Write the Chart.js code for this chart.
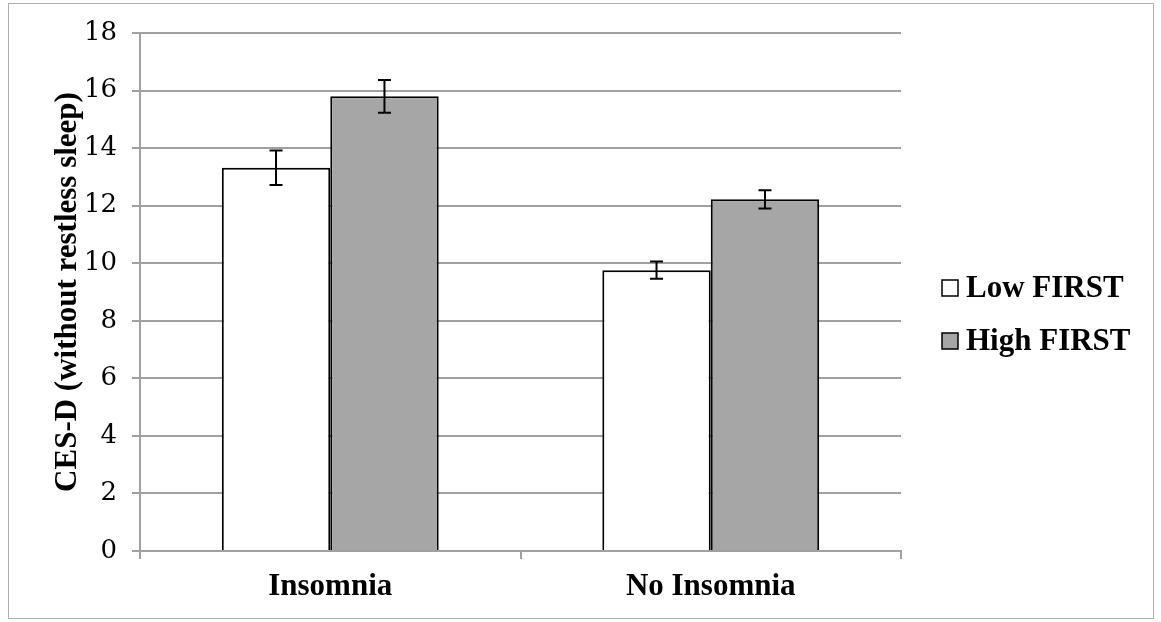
<html>
  <head>
    <meta charset="utf-8" />
    <title>CES-D by insomnia and FIRST</title>
    <style>
      body { margin: 0; background: #ffffff; }
      #box { width: 1161px; height: 622px; }
    </style>
  </head>
  <body>
    <div id="box"><canvas id="chart"></canvas></div>

    <script src="https://cdn.jsdelivr.net/npm/chart.js"></script>
    <script>
      // categories and series
      var groups = ["Insomnia", "No Insomnia"];
      var seriesNames = ["Low FIRST", "High FIRST"];
      var seriesColors = ["#ffffff", "#a6a6a6"];
      // means
      var lowMeans = [13.32, 9.76];
      var highMeans = [15.8, 12.22];
      // error bar half-lengths
      var lowErr = [0.6, 0.3];
      var highErr = [0.57, 0.32];
      // y axis
      var yMin = 0, yMax = 18, yStep = 2;
      var yTitle = "CES-D (without restless sleep)";

      var grey = "#a0a0a0";
      var bigFont = { family: "'Liberation Serif', 'Times New Roman', serif", size: 31, weight: "bold" };

      // grey frame around the whole chart
      var frame = {
        id: "frame",
        beforeDraw: function (chart) {
          var ctx = chart.ctx;
          ctx.save();
          ctx.strokeStyle = "#b0b0b0";
          ctx.lineWidth = 1;
          ctx.strokeRect(8.5, 3.5, 1145, 615);
          ctx.restore();
        },
      };

      // error bars, placed with the y scale
      var errorBars = {
        id: "errorBars",
        afterDatasetsDraw: function (chart) {
          var ctx = chart.ctx;
          var y = chart.scales.y;
          chart.data.datasets.forEach(function (ds, i) {
            var meta = chart.getDatasetMeta(i);
            meta.data.forEach(function (bar, j) {
              var v = ds.data[j], e = ds.errors[j];
              var top = y.getPixelForValue(v + e);
              var bot = y.getPixelForValue(v - e);
              ctx.save();
              ctx.strokeStyle = "#000000";
              ctx.lineWidth = 2;
              ctx.beginPath();
              ctx.moveTo(bar.x, top); ctx.lineTo(bar.x, bot);
              ctx.moveTo(bar.x - 6.5, top); ctx.lineTo(bar.x + 6.5, top);
              ctx.moveTo(bar.x - 6.5, bot); ctx.lineTo(bar.x + 6.5, bot);
              ctx.stroke();
              ctx.restore();
            });
          });
        },
      };

      // legend at the right, square swatches with black edge
      var sideLegend = {
        id: "sideLegend",
        afterDraw: function (chart) {
          var ctx = chart.ctx;
          var x0 = chart.chartArea.right + 41;
          var yc = [288, 341];
          ctx.save();
          chart.data.datasets.forEach(function (ds, i) {
            ctx.fillStyle = ds.backgroundColor;
            ctx.fillRect(x0, yc[i] - 8, 16, 16);
            ctx.strokeStyle = "#000000";
            ctx.lineWidth = 1.5;
            ctx.strokeRect(x0, yc[i] - 8, 16, 16);
            ctx.fillStyle = "#000000";
            ctx.font = "bold 31px 'Liberation Serif', 'Times New Roman', serif";
            ctx.textBaseline = "middle";
            ctx.textAlign = "left";
            ctx.fillText(ds.label, x0 + 24, yc[i] + 1);
          });
          ctx.restore();
        },
      };

      var ctx = document.getElementById("chart").getContext("2d");
      var chart = new Chart(ctx, {
        type: "bar",
        data: {
          labels: groups,
          datasets: [
            {
              label: seriesNames[0],
              data: lowMeans,
              errors: lowErr,
              backgroundColor: seriesColors[0],
              borderColor: "#000000",
              borderWidth: 2,
            },
            {
              label: seriesNames[1],
              data: highMeans,
              errors: highErr,
              backgroundColor: seriesColors[1],
              borderColor: "#000000",
              borderWidth: 2,
            },
          ],
        },
        options: {
          responsive: true,
          maintainAspectRatio: false,
          animation: false,
          layout: { padding: { left: 0, right: 260, top: 33, bottom: 0 } },
          datasets: { bar: { categoryPercentage: 0.57, barPercentage: 1.0 } },
          plugins: {
            legend: { display: false },
            tooltip: { enabled: false },
          },
          scales: {
            x: {
              grid: { drawOnChartArea: false, drawTicks: true, tickLength: 8, color: grey, lineWidth: 2 },
              border: { color: grey, width: 2 },
              ticks: { color: "#000000", font: bigFont, padding: 9 },
              afterFit: function (s) { s.height = 71; },
            },
            y: {
              min: yMin,
              max: yMax,
              ticks: {
                stepSize: yStep,
                color: "#000000",
                padding: 15,
                font: { family: "'DejaVu Serif', serif", size: 26 },
              },
              grid: { color: grey, lineWidth: 2, tickLength: 8 },
              border: { color: grey, width: 2 },
              title: {
                display: true,
                text: yTitle,
                color: "#000000",
                font: bigFont,
                padding: { top: 49, bottom: 0 },
              },
              afterFit: function (s) { s.width = 140; },
            },
          },
        },
        plugins: [frame, errorBars, sideLegend],
      });
    </script>
  </body>
</html>
